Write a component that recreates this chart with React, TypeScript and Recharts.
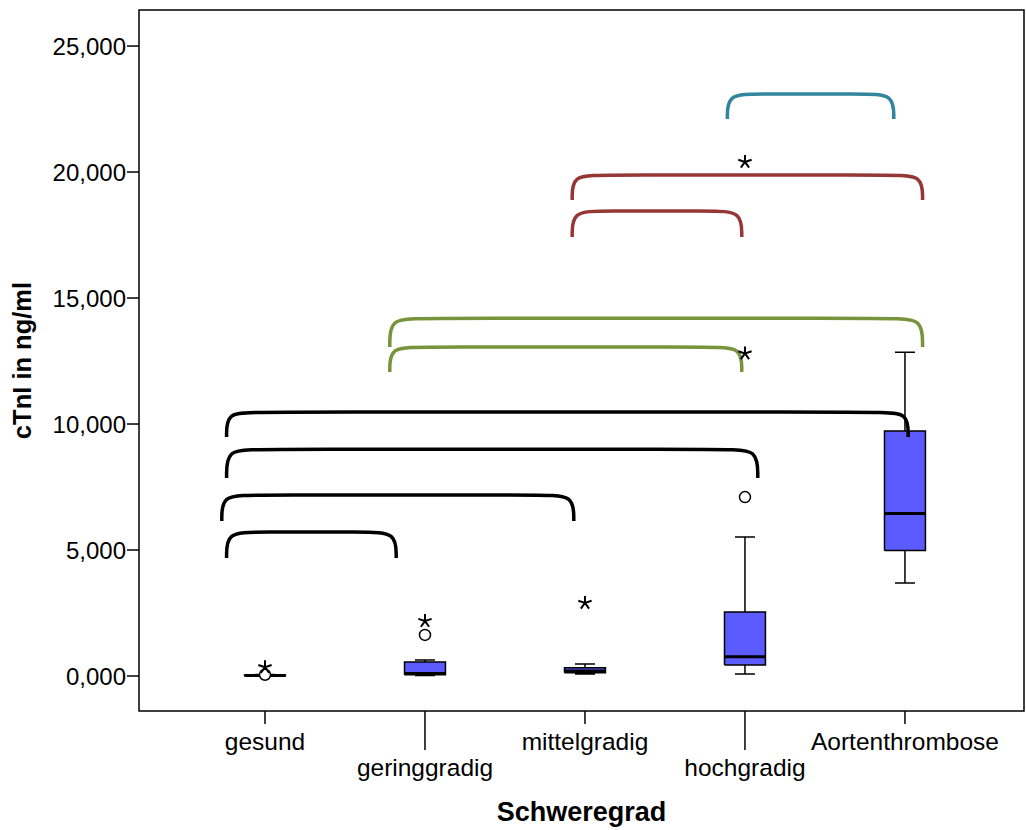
import { Area, ComposedChart, Line, ReferenceArea, Scatter, XAxis, YAxis } from "recharts";

const categories = ["gesund", "geringgradig", "mittelgradig", "hochgradig", "Aortenthrombose"];

// box plot stats, cTnI in ng/ml
const mins = [0.0, 0.02, 0.08, 0.08, 3.69];
const q1s = [0.01, 0.05, 0.13, 0.44, 4.98];
const medians = [0.02, 0.1, 0.2, 0.76, 6.45];
const q3s = [0.04, 0.56, 0.33, 2.54, 9.72];
const maxs = [0.06, 0.63, 0.48, 5.52, 12.85];

const outlierCircles = [
  { x: 0, y: 0.05 },
  { x: 1, y: 1.63 },
  { x: 3, y: 7.1 },
];
const extremeStars = [
  { x: 0, y: 0.35 },
  { x: 1, y: 2.18 },
  { x: 2, y: 2.9 },
  { x: 3, y: 12.8 },
];
const sigStars = [{ x: 3, y: 20.4 }];

const yTicks = [0, 5, 10, 15, 20, 25];

// significance brackets: from/to in category units, top/foot in ng/ml
const brackets = [
  { from: -0.24, to: 0.82, top: 5.71, foot: 4.68, color: "#000000" },
  { from: -0.27, to: 1.93, top: 7.18, foot: 6.15, color: "#000000" },
  { from: -0.24, to: 3.08, top: 9.0, foot: 7.86, color: "#000000" },
  { from: -0.24, to: 4.02, top: 10.48, foot: 9.48, color: "#000000" },
  { from: 0.78, to: 2.98, top: 13.06, foot: 12.06, color: "#77933C" },
  { from: 0.78, to: 4.11, top: 14.2, foot: 13.06, color: "#77933C" },
  { from: 1.92, to: 2.98, top: 18.45, foot: 17.42, color: "#953735" },
  { from: 1.92, to: 4.11, top: 19.88, foot: 18.89, color: "#953735" },
  { from: 2.89, to: 3.93, top: 23.1, foot: 22.1, color: "#31859C" },
];

const X_DOMAIN: [number, number] = [-0.7875, 4.744];
const Y_DOMAIN: [number, number] = [-1.389, 26.43];
const BOX_HALF = 0.128;
const CAP_HALF = 0.0625;
const CORNER = 0.19;
const FONT = "'Liberation Sans', Arial, sans-serif";

// outline + whiskers for all boxes, broken with nulls
const whiskerData = categories.flatMap((_, i) => [
  { x: i - BOX_HALF, y: q1s[i] },
  { x: i + BOX_HALF, y: q1s[i] },
  { x: i + BOX_HALF, y: q3s[i] },
  { x: i - BOX_HALF, y: q3s[i] },
  { x: i - BOX_HALF, y: q1s[i] },
  { x: i, y: null },
  { x: i - CAP_HALF, y: maxs[i] },
  { x: i + CAP_HALF, y: maxs[i] },
  { x: i, y: maxs[i] },
  { x: i, y: q3s[i] },
  { x: i, y: null },
  { x: i - CAP_HALF, y: mins[i] },
  { x: i + CAP_HALF, y: mins[i] },
  { x: i, y: mins[i] },
  { x: i, y: q1s[i] },
  { x: i, y: null },
]);

const medianData = categories.flatMap((_, i) => [
  { x: i - BOX_HALF, y: medians[i] },
  { x: i + BOX_HALF, y: medians[i] },
  { x: i, y: null },
]);

const boxFill = (i: number) => [
  { x: i - BOX_HALF, range: [q1s[i], q3s[i]] },
  { x: i + BOX_HALF, range: [q1s[i], q3s[i]] },
];

const bracketPoints = (b: (typeof brackets)[number]) => [
  { x: b.from, y: b.foot },
  { x: b.from, y: b.top },
  { x: b.from + CORNER, y: b.top },
  { x: b.to - CORNER, y: b.top },
  { x: b.to, y: b.top },
  { x: b.to, y: b.foot },
];

const Circle = ({ cx, cy }: any) => (
  <circle cx={cx} cy={cy} r={5.5} fill="#fff" stroke="#000" strokeWidth={1.5} />
);

const Star = ({ cx, cy }: any) => {
  const r = 7;
  const d = [-90, -18, 54, 126, 198]
    .map((a) => {
      const rad = (a * Math.PI) / 180;
      return `M${cx},${cy}L${cx + r * Math.cos(rad)},${cy + r * Math.sin(rad)}`;
    })
    .join("");
  return <path d={d} stroke="#000" strokeWidth={2} fill="none" />;
};

const XTick = ({ x, y, payload }: any) => {
  const i = payload.value as number;
  const low = i % 2 === 1;
  return (
    <g>
      <line x1={x} x2={x} y1={y} y2={y + (low ? 39 : 13)} stroke="#000" strokeWidth={1.5} />
      <text x={x} y={y + (low ? 65 : 39)} textAnchor="middle" fontSize={24.5} fontFamily={FONT} fill="#000">
        {categories[i]}
      </text>
    </g>
  );
};

const YTitle = ({ viewBox }: any) => {
  const cx = 24;
  const cy = viewBox.y + viewBox.height / 2;
  return (
    <text
      x={cx}
      y={cy}
      transform={`rotate(-90 ${cx} ${cy})`}
      textAnchor="middle"
      dominantBaseline="middle"
      fontSize={25.5}
      fontWeight="bold"
      fontFamily={FONT}
      fill="#000"
    >
      cTnI in ng/ml
    </text>
  );
};

const XTitle = ({ viewBox }: any) => (
  <text
    x={viewBox.x + viewBox.width / 2}
    y={821}
    textAnchor="middle"
    fontSize={27}
    fontWeight="bold"
    fontFamily={FONT}
    fill="#000"
  >
    Schweregrad
  </text>
);

export default function App() {
  return (
    <div style={{ background: "#fff" }}>
      <style>{`body{margin:0}`}</style>
      <ComposedChart width={1026} height={830} margin={{ top: 10, right: 2, bottom: 0, left: 0 }}>
        <XAxis
          type="number"
          dataKey="x"
          domain={X_DOMAIN}
          allowDataOverflow
          ticks={[0, 1, 2, 3, 4]}
          interval={0}
          height={119}
          axisLine={false}
          tickLine={false}
          tickSize={0}
          tickMargin={0}
          tick={<XTick />}
          label={<XTitle />}
        />
        <YAxis
          type="number"
          domain={Y_DOMAIN}
          allowDataOverflow
          ticks={yTicks}
          width={139}
          axisLine={false}
          tickSize={12}
          tickMargin={1}
          tickLine={{ stroke: "#000", strokeWidth: 1.5 }}
          tick={{ fill: "#000", fontSize: 24, fontFamily: FONT }}
          tickFormatter={(v: number) => v.toFixed(3).replace(".", ",")}
          label={<YTitle />}
        />
        <ReferenceArea
          x1={X_DOMAIN[0]}
          x2={X_DOMAIN[1]}
          y1={Y_DOMAIN[0]}
          y2={Y_DOMAIN[1]}
          fill="none"
          fillOpacity={0}
          stroke="#000"
          strokeWidth={1.5}
        />
        {categories.map((c, i) => (
          <Area
            key={c}
            data={boxFill(i)}
            dataKey="range"
            type="linear"
            fill="#5B5BFF"
            fillOpacity={1}
            stroke="none"
            isAnimationActive={false}
            activeDot={false}
          />
        ))}
        <Line
          data={whiskerData}
          dataKey="y"
          type="linear"
          stroke="#000"
          strokeWidth={1.5}
          dot={false}
          activeDot={false}
          isAnimationActive={false}
        />
        <Line
          data={medianData}
          dataKey="y"
          type="linear"
          stroke="#000"
          strokeWidth={3}
          dot={false}
          activeDot={false}
          isAnimationActive={false}
        />
        <Scatter data={outlierCircles} dataKey="y" shape={<Circle />} isAnimationActive={false} />
        <Scatter data={extremeStars} dataKey="y" shape={<Star />} isAnimationActive={false} />
        {brackets.map((b, i) => (
          <Line
            key={i}
            data={bracketPoints(b)}
            dataKey="y"
            type="basis"
            stroke={b.color}
            strokeWidth={3.5}
            dot={false}
            activeDot={false}
            isAnimationActive={false}
          />
        ))}
        <Scatter data={sigStars} dataKey="y" shape={<Star />} isAnimationActive={false} />
      </ComposedChart>
    </div>
  );
}
